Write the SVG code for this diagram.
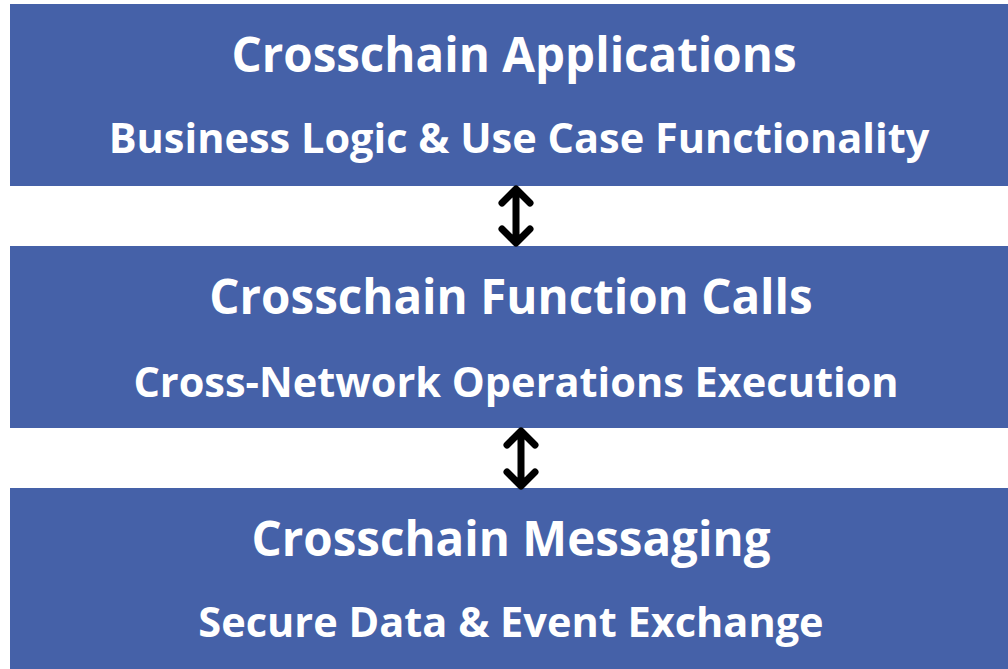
<svg xmlns="http://www.w3.org/2000/svg" width="1008" height="669" viewBox="0 0 1008 669">
<style>
.box{fill:#4561A8}
.t{font-family:"Open Sans","Liberation Sans",sans-serif;font-weight:700;fill:#fff;text-anchor:middle}
.h{font-size:47.5px}
.s{font-size:41.5px}
.arr{fill:none;stroke:#000;stroke-width:7;stroke-linecap:round;stroke-linejoin:round}
</style>
<rect width="1008" height="669" fill="#fff"/>
<g id="apps">
<rect class="box" x="10" y="4" width="998" height="182"/>
<text class="t h" x="514" y="72">Crosschain Applications</text>
<text class="t s" x="519" y="153">Business Logic &amp; Use Case Functionality</text>
</g>
<g id="calls">
<rect class="box" x="10" y="246" width="998" height="182"/>
<text class="t h" x="511" y="314">Crosschain Function Calls</text>
<text class="t s" x="516" y="397">Cross-Network Operations Execution</text>
</g>
<g id="messaging">
<rect class="box" x="10" y="488" width="998" height="181"/>
<text class="t h" x="511" y="556">Crosschain Messaging</text>
<text class="t s" x="511" y="637">Secure Data &amp; Event Exchange</text>
</g>
<g id="connectors">
<path class="arr" d="M516,191V241M502,203L516,189L530,203M502,229L516,243L530,229"/>
<path class="arr" d="M521,433V484M507,445L521,431L535,445M507,472L521,486L535,472"/>
</g>
</svg>
